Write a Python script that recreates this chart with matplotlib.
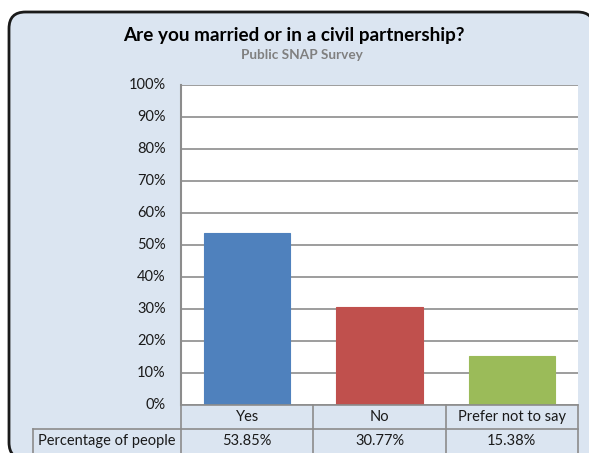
import matplotlib
matplotlib.use("Agg")
import matplotlib.pyplot as plt
from matplotlib.patches import FancyBboxPatch
from matplotlib.ticker import PercentFormatter

categories = ["Yes", "No", "Prefer not to say"]
values = [53.85, 30.77, 15.38]
value_labels = ["53.85%", "30.77%", "15.38%"]
row_label = "Percentage of people"
colors = ["#4f81bd", "#c0504d", "#9bbb59"]
title = "Are you married or in a civil partnership?"
subtitle = "Public SNAP Survey"

plt.rcParams['font.family'] = ['Lato', 'DejaVu Sans']

W, H = 589, 453
fig = plt.figure(figsize=(W / 100, H / 100), dpi=100)
fig.patch.set_facecolor("white")

def px(x0, y0, x1, y1):
    return [x0 / W, 1 - y1 / H, (x1 - x0) / W, (y1 - y0) / H]

# outer rounded frame
fx0, fy0, fx1, fy1 = 9, 12, 594, 459
bg = FancyBboxPatch((fx0 / W, 1 - fy1 / H), (fx1 - fx0) / W, (fy1 - fy0) / H,
                    boxstyle="round,pad=0,rounding_size=0.028",
                    transform=fig.transFigure, facecolor="#dbe5f1",
                    edgecolor="#1a1a1a", linewidth=2, zorder=-5,
                    mutation_aspect=W / H)
fig.patches.append(bg)

fig.text(294 / W, 1 - 35 / H, title, ha="center", va="center",
         fontsize=13.6, fontweight="bold", color="#000000")
fig.text(302 / W, 1 - 55 / H, subtitle, ha="center", va="center",
         fontsize=9.8, fontweight="bold", color="#808080")

L, R, T, B = 181, 578, 85, 405
ax = fig.add_axes(px(L, T, R, B))
ax.set_facecolor("white")
x = list(range(len(categories)))
ax.bar(x, values, width=0.65, color=colors, edgecolor=colors, linewidth=0.8, zorder=3)
ax.set_xlim(-0.5, len(categories) - 0.5)
ax.set_ylim(0, 100)
ax.set_yticks(range(0, 101, 10))
ax.yaxis.set_major_formatter(PercentFormatter(decimals=0))
ax.tick_params(axis="y", length=0, pad=11, labelsize=10.5, labelcolor="#1a1a1a")
ax.set_xticks([])
ax.grid(axis="y", color="#8c8c8c", linewidth=1.2, zorder=0)
for s in ["top", "right", "bottom"]:
    ax.spines[s].set_visible(False)
ax.spines["left"].set_color("#8c8c8c")
ax.spines["left"].set_linewidth(1.5)
for lab in ax.get_yticklabels():
    lab.set_verticalalignment("center")

# data table
TL = 33
colw = (R - L) / len(categories)
left_ext = (L - TL) / colw
tab = fig.add_axes(px(TL, B, R, H))
tab.set_xlim(-0.5 - left_ext, len(categories) - 0.5)
tab.set_ylim(0, 2)
tab.invert_yaxis()
tab.axis("off")
tab.patch.set_alpha(0)
lc = "#8c8c8c"
lw = 1.2
x0 = -0.5
x_end = len(categories) - 0.5
xl = -0.5 - left_ext
tab.plot([x0, x_end], [0, 0], color=lc, lw=lw, clip_on=False)
tab.plot([xl, x_end], [1, 1], color=lc, lw=lw, clip_on=False)
for i in range(len(categories) + 1):
    tab.plot([x0 + i, x0 + i], [0, 2], color=lc, lw=lw, clip_on=False)
tab.plot([xl, xl], [1, 2], color=lc, lw=lw, clip_on=False)
for i, (c, v) in enumerate(zip(categories, value_labels)):
    tab.text(i, 0.5, c, ha="center", va="center", fontsize=10.5, color="#1a1a1a")
    tab.text(i, 1.5, v, ha="center", va="center", fontsize=10.5, color="#1a1a1a")
tab.text((xl + x0) / 2, 1.5, row_label, ha="center", va="center", fontsize=10.5, color="#1a1a1a")

fig.savefig("out.png", dpi=100)
